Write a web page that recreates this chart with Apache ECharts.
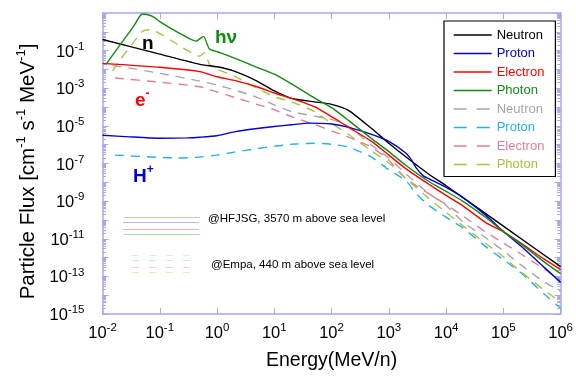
<!DOCTYPE html>
<html><head><meta charset="utf-8">
<script src="https://cdn.jsdelivr.net/npm/echarts@6/dist/echarts.min.js"></script>
<style>html,body{margin:0;padding:0;background:#fff}#c{width:576px;height:376px}</style>
</head><body><div id="c"></div>
<script>
// ---------- data ----------
const xLabelExponents = [-2, -1, 0, 1, 2, 3, 4, 5, 6];
const yLabelExponents = [-15, -13, -11, -9, -7, -5, -3, -1];

// HFJSG (solid)
const neutronHFJSG_E = [0.01, 0.1, 0.5, 1, 2, 5, 10, 20, 50, 100, 200, 500, 1000, 2000, 5000, 1e4, 1e5, 1e6];
const neutronHFJSG_F = [0.39, 0.065, 0.0186, 0.0138, 0.0081, 0.0024, 7.2e-4, 2.9e-4, 1.9e-4, 1.4e-4, 6.5e-5, 7.2e-6, 1.2e-6, 2.2e-7, 2.7e-8, 6.6e-9, 4.7e-11, 3.3e-13];

const protonHFJSG_E = [0.01, 0.03, 0.1, 0.3, 0.5, 1, 2, 5, 10, 20, 40, 100, 200, 500, 1000, 2000, 2500, 3000, 4000, 5000, 1e4, 2e4, 5e4, 1e5, 2e5, 5e5, 1e6];
const protonHFJSG_F = [3.2e-6, 2.6e-6, 2.2e-6, 2.3e-6, 2.5e-6, 3.0e-6, 4.8e-6, 7.2e-6, 9.3e-6, 1.15e-5, 1.4e-5, 1.25e-5, 8.3e-6, 3.5e-6, 1.5e-6, 3.5e-7, 1.5e-7, 5.9e-8, 2.2e-8, 1.55e-8, 5.4e-9, 1.5e-9, 1.7e-10, 2.4e-11, 4.2e-12, 3.3e-13, 4.8e-14];

const electronHFJSG_E = [0.01, 0.1, 0.5, 1, 2, 5, 10, 20, 50, 100, 200, 500, 1000, 2000, 5000, 1e4, 2e4, 5e4, 1e5, 2e5, 5e5, 1e6];
const electronHFJSG_F = [0.021, 0.013, 0.0076, 0.0041, 0.0026, 0.0012, 5.6e-4, 2.9e-4, 1.05e-4, 3.1e-5, 8.3e-6, 1.5e-6, 2.8e-7, 5.2e-8, 7.9e-9, 2.0e-9, 5.4e-10, 7.0e-11, 2.4e-11, 6.0e-12, 8.7e-13, 2.3e-13];

const photonHFJSG_E = [0.0115, 0.02, 0.035, 0.045, 0.05, 0.06, 0.08, 0.1, 0.2, 0.43, 0.58, 0.73, 1, 1.64, 5, 10, 20, 50, 100, 200, 500, 1000, 2000, 5000, 1e4, 2e4, 5e4, 1e5, 2e5, 5e5, 1e6];
const photonHFJSG_F = [0.0187, 0.19, 2.0, 6.9, 8.9, 8.3, 5.9, 3.5, 1.0, 0.32, 0.57, 0.126, 0.087, 0.051, 0.013, 0.0056, 0.0017, 3.1e-4, 9.3e-5, 1.9e-5, 2.1e-6, 4.3e-7, 7.8e-8, 1.1e-8, 3.3e-9, 9.5e-10, 1.3e-10, 2.4e-11, 5.5e-12, 6.3e-13, 1.4e-13];

// Empa (dashed)
const neutronEmpa_E = [0.015, 0.026, 0.1, 0.5, 1, 2, 5, 10, 20, 50, 100, 200, 500, 1000, 2000, 5000, 1e4, 2e4, 5e4, 1e5, 2e5, 5e5, 1e6];
const neutronEmpa_F = [0.016, 0.0126, 0.0062, 0.0024, 0.0015, 8.1e-4, 3.3e-4, 1.3e-4, 5.8e-5, 3.3e-5, 2.2e-5, 9.3e-6, 9.3e-7, 1.95e-7, 2.8e-8, 2.5e-9, 5.9e-10, 7.6e-11, 1.1e-11, 2.3e-12, 4.2e-13, 5.4e-14, 1.6e-14];

const protonEmpa_E = [0.0165, 0.1, 0.2, 0.5, 1, 2, 5, 10, 20, 50, 100, 200, 500, 1000, 2000, 3000, 5000, 1e4, 2e4, 5e4, 1e5, 2e5, 5e5, 1e6];
const protonEmpa_F = [2.8e-7, 2.1e-7, 1.95e-7, 2.2e-7, 2.8e-7, 4.0e-7, 6.2e-7, 8.3e-7, 1.05e-6, 1.2e-6, 1.05e-6, 7.4e-7, 2.2e-7, 4.6e-8, 1.2e-8, 2.5e-9, 5.9e-10, 1.4e-10, 3.6e-11, 3.7e-12, 7.8e-13, 1.6e-13, 1.26e-14, 2.0e-15];

const electronEmpa_E = [0.0165, 0.1, 0.5, 1, 2, 5, 10, 20, 50, 100, 200, 500, 1000, 2000, 5000, 1e4, 2e4, 5e4, 1e5, 2e5, 5e5, 1e6];
const electronEmpa_F = [0.0035, 0.0021, 0.0012, 6.3e-4, 3.3e-4, 1.4e-4, 7.2e-5, 3.1e-5, 1.2e-5, 5.4e-6, 2.5e-6, 7.4e-7, 1.5e-7, 1.55e-8, 2.5e-9, 6.6e-10, 1.55e-10, 2.2e-11, 6.0e-12, 1.6e-12, 2.6e-13, 6.9e-14];

const photonEmpa_E = [0.015, 0.02, 0.03, 0.04, 0.05, 0.07, 0.1, 0.2, 0.5, 0.6, 0.75, 1, 2, 5, 10, 20, 50, 100, 200, 500, 1000, 2000, 5000, 1e4, 2e4, 5e4, 1e5, 2e5, 5e5, 1e6];
const photonEmpa_F = [0.0081, 0.031, 0.155, 0.49, 1.07, 1.3, 0.81, 0.22, 0.051, 0.078, 0.017, 0.0102, 0.0044, 0.001, 3.5e-4, 1.9e-4, 5.8e-5, 1.35e-5, 3.5e-6, 4.6e-7, 1.07e-7, 1.55e-8, 1.4e-9, 2.5e-10, 4.7e-11, 5.4e-12, 1.1e-12, 1.8e-13, 2.0e-14, 4.3e-15];

// ---------- chart ----------
const FONT = '"Liberation Sans", Arial, Helvetica, sans-serif';
const AXIS = '#a8a8f0';

const defs = [
  {name: 'Neutron', E: neutronHFJSG_E, F: neutronHFJSG_F, color: '#000000', dash: false},
  {name: 'Proton', E: protonHFJSG_E, F: protonHFJSG_F, color: '#0000d2', dash: false},
  {name: 'Electron', E: electronHFJSG_E, F: electronHFJSG_F, color: '#ff0000', dash: false},
  {name: 'Photon', E: photonHFJSG_E, F: photonHFJSG_F, color: '#138a13', dash: false},
  {name: 'Neutron (Empa)', E: neutronEmpa_E, F: neutronEmpa_F, color: '#a6a6a6', dash: true},
  {name: 'Proton (Empa)', E: protonEmpa_E, F: protonEmpa_F, color: '#27b1ec', dash: true},
  {name: 'Electron (Empa)', E: electronEmpa_E, F: electronEmpa_F, color: '#dc7f9c', dash: true},
  {name: 'Photon (Empa)', E: photonEmpa_E, F: photonEmpa_F, color: '#a9c33f', dash: true}
];

function expOf(v) { return Math.round(Math.log10(v)); }
const tickRich = {
  a: {fontSize: 16.5, fontFamily: FONT, color: '#000', verticalAlign: 'bottom', lineHeight: 20},
  b: {fontSize: 11.5, fontFamily: FONT, color: '#000', verticalAlign: 'top', lineHeight: 12}
};
function xFmt(v) { const e = expOf(v); return xLabelExponents.includes(e) ? '{a|10}{b|' + e + '}' : ''; }
function yFmt(v) { const e = expOf(v); return yLabelExponents.includes(e) ? '{a|10}{b|' + e + '}' : ''; }

function logAxis(extra) {
  return Object.assign({
    type: 'log', logBase: 10,
    axisLine: {show: true, onZero: false, lineStyle: {color: AXIS, width: 1.5}},
    axisTick: {show: true, inside: true, length: 6, interval: 0, lineStyle: {color: AXIS, width: 1}},
    splitLine: {show: false},
    minorSplitLine: {show: false}
  }, extra);
}

const chart = echarts.init(document.getElementById('c'), null, {renderer: 'canvas'});

const series = defs.map(d => ({
  name: d.name, type: 'line', xAxisIndex: 0, yAxisIndex: 0,
  data: d.E.map((e, i) => [e, d.F[i]]),
  showSymbol: false, symbol: 'none', smooth: 0.2,
  lineStyle: {color: d.color, width: 1.4, type: d.dash ? [9, 7] : 'solid'},
  itemStyle: {color: d.color},
  emphasis: {disabled: true}, silent: true, z: d.dash ? 2 : 3
}));

const legendData = defs.map(d => ({
  name: d.name,
  textStyle: {color: d.color},
  itemStyle: {opacity: 0},
  lineStyle: d.dash ? {type: [13, 10], width: 1.4, color: d.color} : {width: 1.4, color: d.color}
}));

chart.setOption({
  animation: false,
  backgroundColor: '#fff',
  grid: {left: 102.5, right: 12.5, top: 13, bottom: 58},
  xAxis: [
    logAxis({min: 0.01, max: 1e6, interval: 1, splitNumber: 8, position: 'bottom',
      axisLabel: {formatter: xFmt, rich: tickRich, margin: 8, interval: 0},
      name: 'Energy(MeV/n)', nameLocation: 'middle', nameGap: 37,
      nameTextStyle: {fontSize: 19.5, fontFamily: FONT, color: '#000'}}),
    logAxis({min: 0.01, max: 1e6, interval: 1, splitNumber: 8, position: 'top',
      axisLabel: {show: false}})
  ],
  yAxis: [
    logAxis({min: 1e-15, max: 10, interval: 1, splitNumber: 16, position: 'left',
      minorTick: {show: true, splitNumber: 9, length: 3.5, lineStyle: {color: AXIS, width: 1}},
      axisLabel: {formatter: yFmt, rich: tickRich, margin: 18, interval: 0},
      name: '{t|Particle Flux [cm}{s|-1}{t| s}{s|-1}{t| MeV}{s|-1}{t|]}',
      nameLocation: 'middle', nameGap: 62, nameRotate: 90,
      nameTextStyle: {padding: [0, 16, 0, 0], rich: {
        t: {fontSize: 20.5, fontFamily: FONT, color: '#000', verticalAlign: 'bottom', lineHeight: 24},
        s: {fontSize: 13, fontFamily: FONT, color: '#000', verticalAlign: 'top', lineHeight: 13}
      }}}),
    logAxis({min: 1e-15, max: 10, interval: 1, splitNumber: 16, position: 'right',
      minorTick: {show: true, splitNumber: 9, length: 3.5, lineStyle: {color: AXIS, width: 1}},
      axisLabel: {show: false}})
  ],
  legend: {
    orient: 'vertical', left: 444, top: 21,
    itemWidth: 38, itemHeight: 14, itemGap: 4.5,
    padding: [7, 11, 5, 9],
    borderColor: '#000', borderWidth: 1.2, backgroundColor: '#fff',
    textStyle: {fontSize: 13, fontFamily: FONT, lineHeight: 14},
    formatter: n => n.replace(' (Empa)', ''),
    selectedMode: false,
    data: legendData
  },
  series: series,
  graphic: [
    // faint sample lines next to the site notes
    {type: 'line', shape: {x1: 124, y1: 217.5, x2: 200, y2: 217.5}, style: {stroke: '#c8c8c8', lineWidth: 1}, silent: true},
    {type: 'line', shape: {x1: 123, y1: 222.5, x2: 199, y2: 222.5}, style: {stroke: '#b8b8ee', lineWidth: 1}, silent: true},
    {type: 'line', shape: {x1: 123, y1: 229.5, x2: 199, y2: 229.5}, style: {stroke: '#f4b0b0', lineWidth: 1}, silent: true},
    {type: 'line', shape: {x1: 124, y1: 234.5, x2: 200, y2: 234.5}, style: {stroke: '#b0d8b0', lineWidth: 1}, silent: true},
    {type: 'line', shape: {x1: 132, y1: 255.5, x2: 196, y2: 255.5}, style: {stroke: '#e8e8e8', lineWidth: 1, lineDash: [7, 10]}, silent: true},
    {type: 'line', shape: {x1: 132, y1: 260.5, x2: 196, y2: 260.5}, style: {stroke: '#c8ecf8', lineWidth: 1, lineDash: [7, 10]}, silent: true},
    {type: 'line', shape: {x1: 132, y1: 267.5, x2: 196, y2: 267.5}, style: {stroke: '#f0d0da', lineWidth: 1, lineDash: [7, 10]}, silent: true},
    {type: 'line', shape: {x1: 132, y1: 272.5, x2: 196, y2: 272.5}, style: {stroke: '#e4ecc4', lineWidth: 1, lineDash: [7, 10]}, silent: true},
    {type: 'text', left: 208, top: 213, silent: true,
      style: {text: '@HFJSG, 3570 m above sea level', fontSize: 11.5, fontFamily: FONT, fill: '#000'}},
    {type: 'text', left: 211, top: 259, silent: true,
      style: {text: '@Empa, 440 m above sea level', fontSize: 11.5, fontFamily: FONT, fill: '#000'}},
    // curve labels
    {type: 'text', left: 142, top: 34, silent: true,
      style: {text: 'n', fontSize: 19, fontWeight: 'bold', fontFamily: FONT, fill: '#000'}},
    {type: 'text', left: 215, top: 28, silent: true,
      style: {text: 'h\u03bd', fontSize: 19, fontWeight: 'bold', fontFamily: FONT, fill: '#138a13'}},
    {type: 'text', left: 135, top: 88, silent: true,
      style: {text: '{m|e}{s|-}', rich: {
        m: {fontSize: 19, fontWeight: 'bold', fontFamily: FONT, fill: '#ff0000', verticalAlign: 'bottom', lineHeight: 22},
        s: {fontSize: 12, fontWeight: 'bold', fontFamily: FONT, fill: '#ff0000', verticalAlign: 'top', lineHeight: 12}}}},
    {type: 'text', left: 133, top: 164, silent: true,
      style: {text: '{m|H}{s|+}', rich: {
        m: {fontSize: 19, fontWeight: 'bold', fontFamily: FONT, fill: '#0000d2', verticalAlign: 'bottom', lineHeight: 22},
        s: {fontSize: 12, fontWeight: 'bold', fontFamily: FONT, fill: '#0000d2', verticalAlign: 'top', lineHeight: 12}}}}
  ]
});
</script>
</body></html>
